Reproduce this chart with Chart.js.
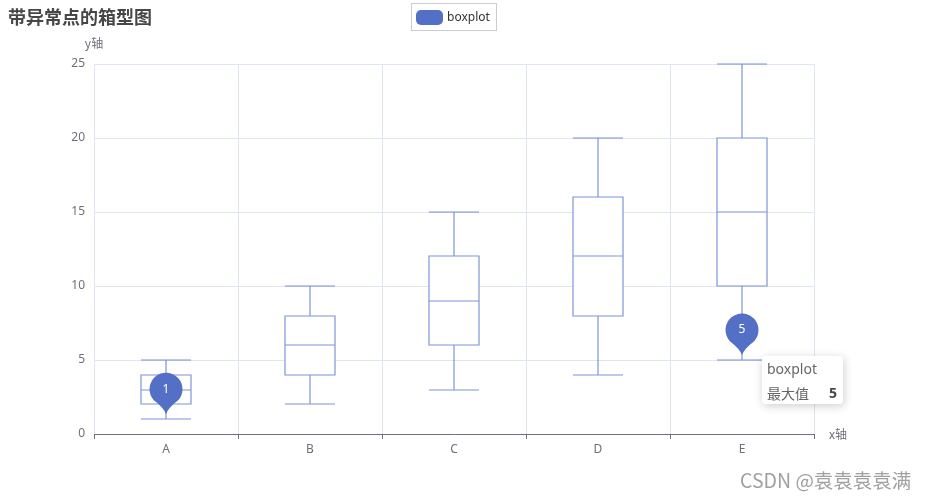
<!DOCTYPE html>
<html>
<head>
<meta charset="utf-8">
<script src="https://cdn.jsdelivr.net/npm/chart.js@4/dist/chart.umd.min.js"></script>
<style>
  html, body { margin: 0; padding: 0; background: #fff; }
  #wrap { position: relative; width: 927px; height: 500px; }
  canvas { display: block; }
</style>
</head>
<body>
<div id="wrap"><canvas id="c" width="927" height="500"></canvas></div>
<script>
const titleText = '带异常点的箱型图';
const seriesName = 'boxplot';
const xAxisName = 'x轴';
const yAxisName = 'y轴';
const categories = ['A', 'B', 'C', 'D', 'E'];
const mins    = [1, 2, 3, 4, 5];
const q1s     = [2, 4, 6, 8, 10];
const medians = [3, 6, 9, 12, 15];
const q3s     = [4, 8, 12, 16, 20];
const maxs    = [5, 10, 15, 20, 25];
const outlierCategories = ['A', 'E'];
const outlierValues = [1, 5];
const tooltipLabel = '最大值';
const tooltipIndex = 1;
const watermark = 'CSDN @袁袁袁袁满';
const yMin = 0, yMax = 25, yStep = 5;

const FONT = '"Noto Sans", "Noto Sans CJK SC", sans-serif';
const CJK = '"Noto Sans CJK SC", "Noto Sans", sans-serif';
const BLUE = '#5470c6';

const boxPlugin = {
  id: 'boxExtras',
  afterDatasetsDraw(chart) {
    const ctx = chart.ctx;
    const xs = chart.scales.x, ys = chart.scales.y;
    const meta = chart.getDatasetMeta(0);
    ctx.save();
    ctx.strokeStyle = BLUE;
    ctx.globalAlpha = 0.75;
    ctx.lineWidth = 1.2;
    categories.forEach((c, i) => {
      const bar = meta.data[i];
      const cx = Math.round(xs.getPixelForValue(i));
      const half = Math.round(bar.width / 2);
      const yMinP = Math.round(ys.getPixelForValue(mins[i]));
      const yQ1 = Math.round(ys.getPixelForValue(q1s[i]));
      const yMed = Math.round(ys.getPixelForValue(medians[i]));
      const yQ3 = Math.round(ys.getPixelForValue(q3s[i]));
      const yMaxP = Math.round(ys.getPixelForValue(maxs[i]));
      ctx.beginPath();
      ctx.moveTo(cx, yMaxP); ctx.lineTo(cx, yQ3);
      ctx.moveTo(cx, yQ1); ctx.lineTo(cx, yMinP);
      ctx.moveTo(cx - half, yMaxP); ctx.lineTo(cx + half, yMaxP);
      ctx.moveTo(cx - half, yMinP); ctx.lineTo(cx + half, yMinP);
      ctx.moveTo(cx - half, yMed); ctx.lineTo(cx + half, yMed);
      ctx.rect(cx - half, yQ3, 2 * half, yQ1 - yQ3);
      ctx.stroke();
    });
    ctx.globalAlpha = 1;
    // mark points (pins)
    outlierCategories.forEach((c, k) => {
      const i = categories.indexOf(c);
      const x = xs.getPixelForValue(i);
      const tip = ys.getPixelForValue(outlierValues[k]) - 5;
      const r = 16.5;
      const cy = tip - 25;
      const a = 0.85;
      ctx.beginPath();
      ctx.arc(x, cy, r, Math.PI / 2 + a, Math.PI / 2 - a + 2 * Math.PI, false);
      const by = cy + r * Math.sin(Math.PI / 2 - a);
      ctx.quadraticCurveTo(x + 2, tip - 6, x, tip);
      ctx.quadraticCurveTo(x - 2, tip - 6, x - r * Math.cos(Math.PI / 2 - a), by);
      ctx.closePath();
      ctx.fillStyle = BLUE;
      ctx.fill();
      ctx.fillStyle = '#fff';
      ctx.font = '12px ' + FONT;
      ctx.textAlign = 'center';
      ctx.textBaseline = 'middle';
      ctx.fillText(String(outlierValues[k]), x, cy);
    });
    ctx.restore();
  },
  afterDraw(chart) {
    const ctx = chart.ctx;
    const xs = chart.scales.x, ys = chart.scales.y;
    const area = chart.chartArea;
    ctx.save();
    // title
    ctx.fillStyle = '#464646';
    ctx.font = 'bold 18px ' + CJK;
    ctx.textAlign = 'left';
    ctx.textBaseline = 'middle';
    ctx.fillText(titleText, 8, 17);
    // legend
    ctx.strokeStyle = '#ccc';
    ctx.lineWidth = 1;
    ctx.strokeRect(411.5, 3.5, 85, 27);
    ctx.fillStyle = BLUE;
    ctx.beginPath();
    ctx.roundRect(416, 10, 27, 15, 5);
    ctx.fill();
    ctx.fillStyle = '#333';
    ctx.font = '12px ' + FONT;
    ctx.fillText(seriesName, 447, 17.5);
    // axis names
    ctx.fillStyle = '#6e7079';
    ctx.font = '12px ' + CJK;
    ctx.textAlign = 'center';
    ctx.fillText(yAxisName, area.left, area.top - 21);
    ctx.textAlign = 'left';
    ctx.fillText(xAxisName, area.right + 15, area.bottom);
    // tooltip
    const ti = categories.indexOf(outlierCategories[tooltipIndex]);
    const tx = Math.round(xs.getPixelForValue(ti)) + 20;
    const ty = Math.round(ys.getPixelForValue(outlierValues[tooltipIndex])) - 4;
    ctx.save();
    ctx.shadowColor = 'rgba(0,0,0,0.2)';
    ctx.shadowBlur = 10;
    ctx.shadowOffsetX = 1;
    ctx.shadowOffsetY = 2;
    ctx.fillStyle = '#fff';
    ctx.beginPath();
    ctx.roundRect(tx, ty, 81, 48, 4);
    ctx.fill();
    ctx.restore();
    ctx.fillStyle = '#666';
    ctx.font = '14px ' + FONT;
    ctx.textBaseline = 'middle';
    ctx.textAlign = 'left';
    ctx.fillText(seriesName, tx + 5, ty + 14);
    ctx.font = '14px ' + CJK;
    ctx.fillText(tooltipLabel, tx + 5, ty + 38);
    ctx.fillStyle = '#464646';
    ctx.font = 'bold 14px ' + FONT;
    ctx.textAlign = 'right';
    ctx.fillText(String(outlierValues[tooltipIndex]), tx + 75, ty + 38);
    // watermark
    ctx.fillStyle = '#a0a0a0';
    ctx.font = '19.5px ' + CJK;
    ctx.textAlign = 'left';
    ctx.fillText(watermark, 740, 481);
    ctx.restore();
  }
};

new Chart(document.getElementById('c'), {
  type: 'bar',
  data: {
    labels: categories,
    datasets: [{
      label: seriesName,
      data: categories.map((c, i) => [q1s[i], q3s[i]]),
      backgroundColor: '#fff',
      borderWidth: 0,
      borderSkipped: false,
      barThickness: 50
    }]
  },
  options: {
    responsive: false,
    animation: false,
    events: [],
    layout: { padding: { left: 0, right: 113, top: 64, bottom: 0 } },
    plugins: { legend: { display: false }, tooltip: { enabled: false }, title: { display: false } },
    scales: {
      x: {
        grid: { color: '#e0e6f1', tickColor: '#6e7079', tickLength: 5, offset: true, lineWidth: 1 },
        border: { display: true, color: '#6e7079', width: 1 },
        ticks: { color: '#6e7079', font: { size: 12, family: FONT }, padding: 3 },
        afterFit(s) { s.height = 66; }
      },
      y: {
        min: yMin, max: yMax,
        grid: { color: '#e0e6f1', drawTicks: false },
        border: { display: false },
        ticks: { stepSize: yStep, color: '#6e7079', font: { size: 12, family: FONT }, padding: 9 },
        afterFit(s) { s.width = 94; }
      }
    }
  },
  plugins: [boxPlugin]
});
</script>
</body>
</html>
